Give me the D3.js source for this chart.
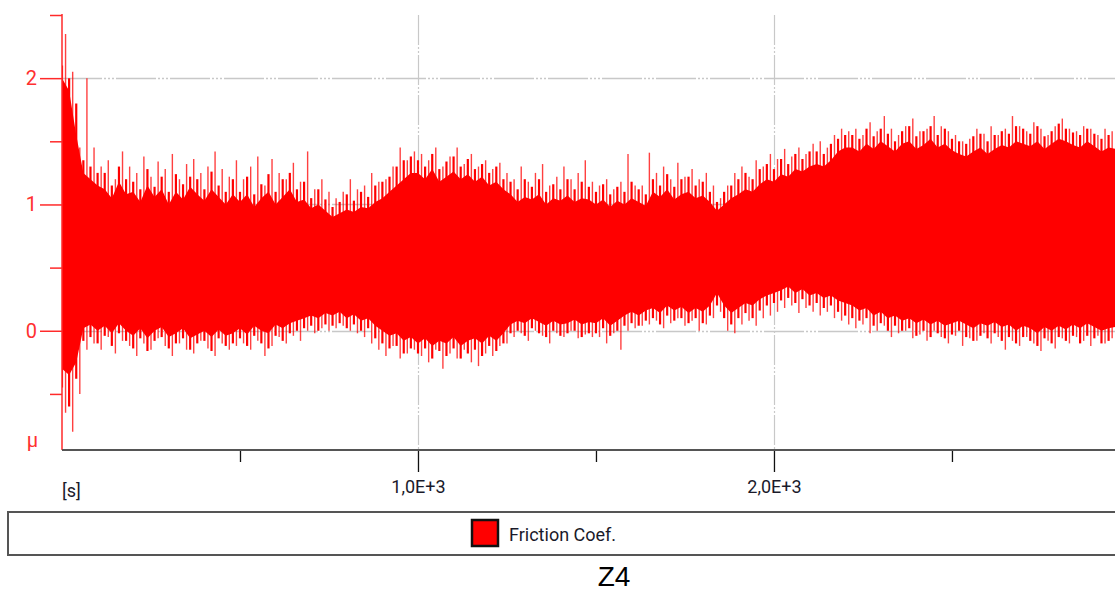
<!DOCTYPE html>
<html>
<head>
<meta charset="utf-8">
<script src="https://cdnjs.cloudflare.com/ajax/libs/d3/7.8.5/d3.min.js"></script>
<style>
  body { margin: 0; background: #fff; overflow: hidden; }
  svg { display: block; }
</style>
</head>
<body>
<script>
//pseudo-global variables
var seriesName = "Friction Coef.";
var chartTitle = "Z4";
var sampleStep = 20; //seconds between core samples

//upper edge of the solid band (mu), one value every 20 s from t = 0
var coreHi = [2.0, 1.9, 1.55, 1.25, 1.2, 1.15,
  1.12, 1.05, 1.18, 1.08, 1.1, 1.02, 1.15, 1.06, 1.12, 1.0, 1.1, 1.04, 1.14, 1.08, 1.03, 1.12, 1.06, 1.0, 1.08,
  1.02, 1.08, 0.98, 1.05, 1.1, 1.0, 1.06, 1.12, 1.02, 1.04, 0.97, 1.0, 0.95,
  0.9, 0.93, 0.96, 0.94, 0.98, 0.97, 1.02,
  1.05, 1.1, 1.15, 1.2, 1.25,
  1.25, 1.2, 1.28, 1.18, 1.22, 1.26, 1.2, 1.24, 1.18, 1.22, 1.15, 1.18, 1.12,
  1.08, 1.02, 1.06, 1.04, 1.08, 1.0, 1.05, 1.03, 1.07, 1.02, 1.05, 1.04,
  1.0, 1.04, 0.98, 1.03, 1.0, 1.05, 1.02, 0.99,
  1.1, 1.06, 1.12, 1.04, 1.08, 1.1, 1.05, 1.07, 1.02,
  0.95,
  1.0, 1.05, 1.08, 1.12, 1.1, 1.16, 1.2, 1.18, 1.24, 1.22, 1.28, 1.26, 1.3,
  1.32, 1.3, 1.35, 1.42, 1.45,
  1.45, 1.42, 1.48, 1.44, 1.5, 1.46, 1.42, 1.48, 1.5, 1.44, 1.47, 1.52, 1.45, 1.48, 1.43, 1.4, 1.38, 1.42, 1.45,
  1.4, 1.44, 1.47, 1.45, 1.5, 1.48, 1.46, 1.5, 1.44, 1.48, 1.52, 1.5, 1.47, 1.45, 1.5, 1.46, 1.42, 1.45, 1.44];

//lower edge of the solid band (mu)
var coreLo = [-0.3, -0.35, -0.25, 0.02,
  0.05, 0.0, 0.04, -0.02, 0.06, 0.0, -0.04, 0.02, -0.06, 0.0, 0.03, -0.05, -0.02, 0.02, -0.06, -0.03, 0.0, -0.05, 0.01, -0.04, -0.02,
  0.02, -0.03, 0.04, 0.0, -0.02, 0.05, 0.02, 0.06, 0.08, 0.1, 0.12, 0.1, 0.14,
  0.12, 0.15, 0.1, 0.13, 0.08, 0.1, 0.04,
  0.0, -0.04, -0.02, -0.08, -0.05,
  -0.1, -0.06, -0.12, -0.08, -0.1, -0.05, -0.12, -0.08, -0.06, -0.1, -0.04, -0.08, -0.02,
  0.05, 0.08, 0.06, 0.1, 0.07, 0.04, 0.08, 0.05, 0.06, 0.09, 0.05, 0.07,
  0.06, 0.1, 0.04, 0.08, 0.12, 0.15, 0.12, 0.16,
  0.18, 0.14, 0.2, 0.16, 0.19, 0.14, 0.18, 0.15, 0.2,
  0.3,
  0.2, 0.14, 0.18, 0.22, 0.2, 0.25, 0.28, 0.3, 0.32, 0.35, 0.3, 0.33, 0.28,
  0.3, 0.26, 0.28, 0.24, 0.22,
  0.2, 0.16, 0.18, 0.12, 0.15, 0.1, 0.12, 0.08, 0.1, 0.06, 0.09, 0.05, 0.08, 0.04, 0.06, 0.08, 0.05, 0.02, 0.06,
  0.04, 0.07, 0.03, 0.05, 0.0, 0.04, 0.02, -0.02, 0.03, 0.0, 0.04, 0.01, 0.05, 0.02, 0.06, 0.03, 0.0, 0.02, 0.03];

//tall thin spikes, one every 20 s from t = 10
var spikeHi = [2.35, 2.05, 1.45, 2.0, 1.45, 1.3,
  1.35, 1.2, 1.42, 1.3, 1.25, 1.38, 1.22, 1.34, 1.28, 1.4, 1.2, 1.32, 1.36, 1.25, 1.3, 1.42, 1.28, 1.22, 1.35,
  1.2, 1.3, 1.38, 1.15, 1.36, 1.25, 1.2, 1.33, 1.18, 1.42, 1.12, 1.2, 1.1,
  1.05, 1.1, 1.2, 1.12, 1.15, 1.25, 1.18,
  1.2, 1.3, 1.45, 1.35, 1.42,
  1.4, 1.35, 1.45, 1.3, 1.38, 1.45, 1.32, 1.4, 1.3, 1.35, 1.28, 1.33, 1.25,
  1.2, 1.3, 1.18, 1.25, 1.32, 1.15, 1.22, 1.3, 1.2, 1.25, 1.35, 1.18,
  1.15, 1.2, 1.12, 1.18, 1.4, 1.15, 1.15, 1.41,
  1.25, 1.3, 1.2, 1.33, 1.22, 1.28, 1.2, 1.25, 1.15,
  1.05,
  1.15, 1.25, 1.3, 1.22, 1.35, 1.3, 1.4, 1.36, 1.44, 1.38, 1.45, 1.4, 1.48,
  1.5, 1.45, 1.55, 1.6, 1.58,
  1.6, 1.55, 1.65, 1.58, 1.7, 1.6, 1.55, 1.62, 1.68, 1.58, 1.6, 1.7, 1.62, 1.58, 1.55, 1.5, 1.52, 1.6, 1.56,
  1.62, 1.55, 1.6, 1.7, 1.62, 1.58, 1.65, 1.6, 1.55, 1.62, 1.68, 1.6, 1.58, 1.62, 1.6, 1.55, 1.6, 1.58];

var spikeLo = [-0.65, -0.8, -0.5, -0.15,
  -0.1, -0.15, -0.05, -0.18, -0.08, -0.12, -0.2, -0.1, -0.15, -0.06, -0.12, -0.2, -0.1, -0.15, -0.18, -0.08, -0.14, -0.2, -0.1, -0.15, -0.12,
  -0.1, -0.15, -0.08, -0.2, -0.12, -0.05, -0.1, -0.04, -0.08, 0.0, -0.02, 0.02, 0.0,
  0.02, 0.04, 0.0, -0.02, -0.05, -0.1, -0.15,
  -0.2, -0.12, -0.22, -0.18, -0.15,
  -0.2, -0.25, -0.15, -0.3, -0.18, -0.22, -0.15, -0.25, -0.28, -0.18, -0.2, -0.12, -0.1,
  -0.05, -0.02, -0.08, 0.0, -0.04, -0.1, -0.02, -0.05, 0.0, -0.06, -0.03, -0.05,
  -0.05, -0.1, -0.02, -0.15, 0.0, 0.02, 0.04, 0.05,
  0.08, 0.02, 0.06, 0.1, 0.04, 0.08, 0.0, 0.05, 0.1,
  0.15,
  0.0, -0.02, 0.05, 0.08, 0.04, 0.1, 0.12, 0.15, 0.18, 0.2, 0.14, 0.18, 0.15,
  0.12, 0.15, 0.1, 0.08, 0.05,
  0.02, 0.05, -0.02, 0.0, 0.04, -0.05, -0.02, 0.0, -0.06, -0.03, -0.08, 0.0, -0.05, -0.1, -0.04, -0.12, -0.06, -0.08, -0.02,
  -0.1, -0.05, -0.15, -0.08, -0.12, -0.05, -0.1, -0.16, -0.08, -0.14, -0.06, -0.1, -0.05, -0.08, -0.12, -0.04, -0.1, -0.06];

//short spikes at the core sample times (t = 0, 20, 40 ...)
var shortHi = [2.1, 2.0, 1.8, 1.35, 1.3, 1.25,
  1.25, 1.15, 1.3, 1.2, 1.18, 1.12, 1.28, 1.14, 1.22, 1.1, 1.24, 1.16, 1.22, 1.2, 1.12, 1.26, 1.15, 1.1, 1.2,
  1.1, 1.22, 1.08, 1.16, 1.24, 1.1, 1.2, 1.25, 1.12, 1.18, 1.05, 1.12, 1.04,
  0.98, 1.02, 1.08, 1.03, 1.1, 1.06, 1.15,
  1.18, 1.22, 1.3, 1.35, 1.38,
  1.35, 1.3, 1.4, 1.28, 1.34, 1.38, 1.3, 1.36, 1.28, 1.32, 1.25, 1.3, 1.2,
  1.18, 1.12, 1.2, 1.14, 1.2, 1.1, 1.16, 1.12, 1.2, 1.12, 1.18, 1.14,
  1.1, 1.16, 1.08, 1.14, 1.1, 1.18, 1.12, 1.08,
  1.2, 1.15, 1.24, 1.14, 1.2, 1.22, 1.15, 1.18, 1.1,
  1.02,
  1.1, 1.15, 1.2, 1.25, 1.2, 1.28, 1.32, 1.28, 1.36, 1.32, 1.4, 1.36, 1.42,
  1.42, 1.4, 1.48, 1.52, 1.55,
  1.55, 1.52, 1.6, 1.54, 1.6, 1.56, 1.5, 1.58, 1.62, 1.54, 1.58, 1.62, 1.55, 1.6, 1.52, 1.5, 1.48, 1.54, 1.56,
  1.5, 1.55, 1.58, 1.56, 1.62, 1.6, 1.56, 1.62, 1.54, 1.58, 1.64, 1.6, 1.57, 1.55, 1.6, 1.56, 1.52, 1.55];

var shortLo = [-0.45, -0.6, -0.38, -0.08,
  -0.05, -0.1, -0.04, -0.12, -0.02, -0.08, -0.14, -0.06, -0.16, -0.08, -0.05, -0.14, -0.1, -0.06, -0.15, -0.1, -0.08, -0.16, -0.06, -0.12, -0.1,
  -0.06, -0.12, -0.04, -0.1, -0.14, -0.04, -0.08, -0.02, 0.0, 0.02, 0.04, 0.0, 0.05,
  0.04, 0.06, 0.02, 0.05, 0.0, 0.02, -0.06,
  -0.1, -0.14, -0.12, -0.18, -0.14,
  -0.18, -0.14, -0.22, -0.16, -0.2, -0.14, -0.22, -0.18, -0.15, -0.2, -0.12, -0.16, -0.1,
  -0.02, 0.0, -0.04, 0.02, -0.02, -0.05, 0.0, -0.04, -0.02, 0.0, -0.05, -0.02,
  -0.02, 0.02, -0.04, 0.0, 0.04, 0.06, 0.04, 0.08,
  0.1, 0.05, 0.12, 0.08, 0.1, 0.06, 0.1, 0.06, 0.12,
  0.2,
  0.1, 0.05, 0.1, 0.14, 0.1, 0.16, 0.2, 0.22, 0.24, 0.26, 0.22, 0.25, 0.2,
  0.22, 0.18, 0.2, 0.15, 0.12,
  0.1, 0.08, 0.1, 0.04, 0.06, 0.0, 0.04, 0.0, 0.02, -0.04, 0.0, -0.05, -0.02, -0.06, -0.03, 0.0, -0.05, -0.08, -0.04,
  -0.06, -0.02, -0.08, -0.05, -0.1, -0.05, -0.08, -0.12, -0.06, -0.1, -0.05, -0.08, -0.04, -0.1, -0.04, -0.06, -0.1, -0.08];

//axis ticks
var xMajorTicks = [1000, 2000];
var xMajorLabels = ["1,0E+3", "2,0E+3"];
var xMinorTicks = [500, 1500, 2500];
var yMajorTicks = [0, 1, 2];
var yMinorTicks = [-0.5, 0.5, 1.5, 2.5];

window.onload = setChart();

function setChart(){
  var width = 1115,
      height = 592,
      left = 62,
      right = 1115,
      top = 15,
      bottom = 450;

  var svg = d3.select("body")
    .append("svg")
    .attr("width", width)
    .attr("height", height);

  var x = d3.scaleLinear()
    .domain([0, 2958])
    .range([left, right]);

  var y = d3.scaleLinear()
    .domain([-0.944, 2.5])
    .range([bottom, top]);

  //clip the signal to the plot frame
  svg.append("clipPath")
    .attr("id", "plotClip")
    .append("rect")
    .attr("x", left)
    .attr("y", top - 10)
    .attr("width", right - left)
    .attr("height", bottom - top + 10);

  //grid lines
  var grid = svg.append("g").attr("class", "grid");
  grid.selectAll(".hgrid")
    .data(yMajorTicks)
    .enter()
    .append("line")
    .attr("x1", left)
    .attr("x2", right)
    .attr("y1", function(d){ return Math.round(y(d)) + 0.5; })
    .attr("y2", function(d){ return Math.round(y(d)) + 0.5; })
    .attr("stroke", "#c8c8c8")
    .attr("stroke-width", 1.5)
    .attr("stroke-dasharray", "40,2,2,2,2,2,2,2");
  grid.selectAll(".vgrid")
    .data(xMajorTicks)
    .enter()
    .append("line")
    .attr("x1", function(d){ return Math.round(x(d)) + 0.5; })
    .attr("x2", function(d){ return Math.round(x(d)) + 0.5; })
    .attr("y1", top)
    .attr("y2", bottom)
    .attr("stroke", "#c8c8c8")
    .attr("stroke-width", 1.2)
    .attr("stroke-dasharray", "30,2,2,2,2,2");

  var plot = svg.append("g").attr("clip-path", "url(#plotClip)");

  //thin spikes, drawn first so the solid band covers their middle
  function drawSpikes(hi, lo, offset, cls, w, op){
    plot.selectAll("." + cls)
      .data(hi)
      .enter()
      .append("line")
      .attr("class", cls)
      .attr("x1", function(d, i){ return x(sampleStep * i + offset); })
      .attr("x2", function(d, i){ return x(sampleStep * i + offset); })
      .attr("y1", function(d){ return y(d); })
      .attr("y2", function(d, i){ return y(lo[i]); })
      .attr("stroke", "#ff0000")
      .attr("stroke-width", w)
      .attr("stroke-opacity", op);
  };
  drawSpikes(spikeHi, spikeLo, sampleStep / 2, "spike", 1.4, 0.75);
  drawSpikes(shortHi, shortLo, 0, "short", 2.2, 1);

  //solid band of the friction coefficient
  var area = d3.area()
    .x(function(d, i){ return x(sampleStep * i); })
    .y0(function(d, i){ return y(coreLo[i]); })
    .y1(function(d){ return y(d); });

  plot.append("path")
    .datum(coreHi)
    .attr("d", area)
    .attr("fill", "#ff0000");

  //y axis in red, major and minor ticks
  var yAxis = svg.append("g")
    .attr("transform", "translate(" + left + ",0)")
    .call(d3.axisLeft(y).tickValues(yMajorTicks).tickSize(22).tickPadding(3).tickFormat(d3.format("d")));
  svg.append("g")
    .attr("transform", "translate(" + left + ",0)")
    .call(d3.axisLeft(y).tickValues(yMinorTicks).tickSize(12).tickFormat(""));
  svg.selectAll(".domain").remove();
  svg.selectAll("g.tick line")
    .attr("stroke", "#ff2a2a")
    .attr("stroke-width", 1.5);
  yAxis.selectAll("text")
    .attr("fill", "#ff3030")
    .style("font-family", "Roboto, 'Liberation Sans', sans-serif")
    .style("font-size", "20px");

  svg.append("line")
    .attr("x1", left)
    .attr("x2", left)
    .attr("y1", top - 1)
    .attr("y2", bottom)
    .attr("stroke", "#ff2a2a")
    .attr("stroke-width", 1.5);

  svg.append("text")
    .attr("x", 38)
    .attr("y", 447)
    .attr("text-anchor", "end")
    .attr("fill", "#ff3030")
    .style("font-family", "Roboto, 'Liberation Sans', sans-serif")
    .style("font-size", "20px")
    .text("μ");

  //x axis
  var xAxis = svg.append("g")
    .attr("transform", "translate(0," + bottom + ")")
    .call(d3.axisBottom(x).tickValues(xMajorTicks).tickSize(22).tickPadding(8)
      .tickFormat(function(d, i){ return xMajorLabels[i]; }));
  var xMinor = svg.append("g")
    .attr("transform", "translate(0," + bottom + ")")
    .call(d3.axisBottom(x).tickValues(xMinorTicks).tickSize(12).tickFormat(""));
  xAxis.select(".domain").remove();
  xMinor.select(".domain").remove();
  xAxis.selectAll("line").attr("stroke", "#111").attr("stroke-width", 1.3);
  xMinor.selectAll("line").attr("stroke", "#111").attr("stroke-width", 1.3);
  xAxis.selectAll("text")
    .attr("fill", "#1a1a2a")
    .style("font-family", "Roboto, 'Liberation Sans', sans-serif")
    .style("font-size", "18px");

  svg.append("line")
    .attr("x1", left)
    .attr("x2", right)
    .attr("y1", bottom)
    .attr("y2", bottom)
    .attr("stroke", "#555")
    .attr("stroke-width", 2);

  svg.append("text")
    .attr("x", 62)
    .attr("y", 497)
    .attr("fill", "#1a1a2a")
    .style("font-family", "Roboto, 'Liberation Sans', sans-serif")
    .style("font-size", "18px")
    .text("[s]");

  //legend box
  svg.append("rect")
    .attr("x", 8)
    .attr("y", 512)
    .attr("width", 1130)
    .attr("height", 43)
    .attr("fill", "#fff")
    .attr("stroke", "#555")
    .attr("stroke-width", 2);
  svg.append("rect")
    .attr("x", 472)
    .attr("y", 520)
    .attr("width", 26)
    .attr("height", 26)
    .attr("fill", "#ff0000")
    .attr("stroke", "#111")
    .attr("stroke-width", 2.5);
  svg.append("text")
    .attr("x", 509)
    .attr("y", 541)
    .attr("fill", "#1a1a2a")
    .style("font-family", "Roboto, 'Liberation Sans', sans-serif")
    .style("font-size", "18px")
    .text(seriesName);

  //caption under the chart
  svg.append("text")
    .attr("x", 614)
    .attr("y", 586)
    .attr("text-anchor", "middle")
    .attr("fill", "#000")
    .style("font-family", "'Liberation Sans', Arial, sans-serif")
    .style("font-size", "28px")
    .text(chartTitle);
};
</script>
</body>
</html>
